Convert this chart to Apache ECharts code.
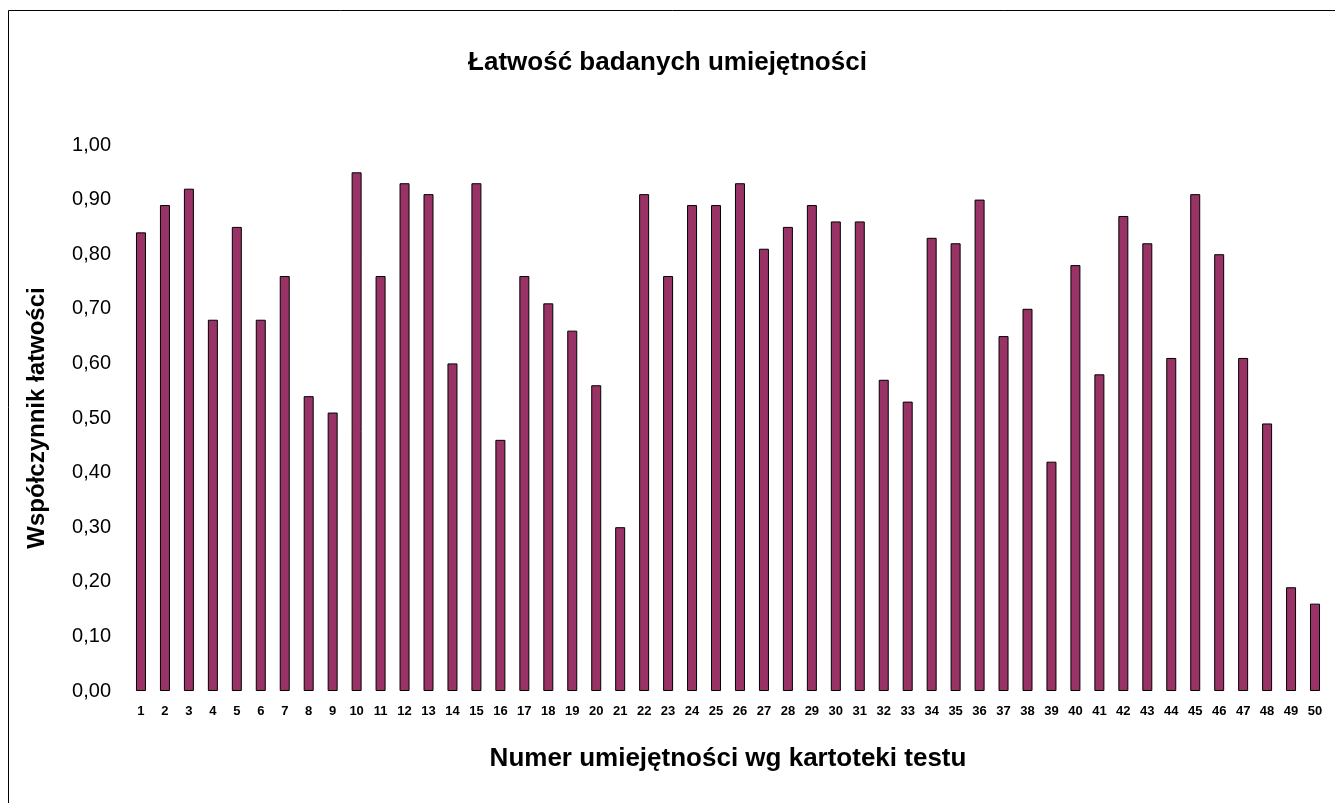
<!DOCTYPE html>
<html>
<head>
<meta charset="utf-8">
<script src="https://cdn.jsdelivr.net/npm/echarts@6/dist/echarts.min.js"></script>
<style>
html,body{margin:0;padding:0;background:#fff;}
#chart{width:1335px;height:803px;}
</style>
</head>
<body>
<div id="chart"></div>
<script>
const categories = ['1','2','3','4','5','6','7','8','9','10','11','12','13','14','15','16','17','18','19','20','21','22','23','24','25','26','27','28','29','30','31','32','33','34','35','36','37','38','39','40','41','42','43','44','45','46','47','48','49','50'];
const values = [0.84,0.89,0.92,0.68,0.85,0.68,0.76,0.54,0.51,0.95,0.76,0.93,0.91,0.60,0.93,0.46,0.76,0.71,0.66,0.56,0.30,0.91,0.76,0.89,0.89,0.93,0.81,0.85,0.89,0.86,0.86,0.57,0.53,0.83,0.82,0.90,0.65,0.70,0.42,0.78,0.58,0.87,0.82,0.61,0.91,0.80,0.61,0.49,0.19,0.16];
const titleText = 'Łatwość badanych umiejętności';
const xAxisName = 'Numer umiejętności wg kartoteki testu';
const yAxisName = 'Współczynnik łatwości';

const sans = "'Liberation Sans', Arial, sans-serif";
const chart = echarts.init(document.getElementById('chart'), null, {renderer:'canvas'});
chart.setOption({
  animation: false,
  backgroundColor: '#ffffff',
  title: {
    text: titleText,
    left: 'center',
    top: 45,
    textStyle: {fontFamily: sans, fontWeight: 'bold', fontSize: 26, color: '#000'}
  },
  graphic: [{
    type: 'rect',
    shape: {x: 8.5, y: 10.5, width: 1400, height: 900},
    style: {fill: 'none', stroke: '#000', lineWidth: 1},
    silent: true,
    z: -1
  }],
  grid: {left: 129, right: 8, top: 145, bottom: 112, containLabel: false},
  xAxis: {
    type: 'category',
    data: categories,
    name: xAxisName,
    nameLocation: 'middle',
    nameGap: 55,
    nameTextStyle: {fontFamily: sans, fontWeight: 'bold', fontSize: 26, color: '#000'},
    axisLine: {show: false},
    axisTick: {show: false},
    axisLabel: {interval: 0, fontFamily: sans, fontWeight: 'bold', fontSize: 13, color: '#000', margin: 14}
  },
  yAxis: {
    type: 'value',
    min: 0, max: 1, interval: 0.1,
    name: yAxisName,
    nameLocation: 'middle',
    nameGap: 80,
    nameTextStyle: {fontFamily: sans, fontWeight: 'bold', fontSize: 24, color: '#000'},
    axisLine: {show: false},
    axisTick: {show: false},
    splitLine: {show: false},
    axisLabel: {
      fontFamily: sans,
      fontSize: 20, color: '#000', margin: 18,
      formatter: v => v.toFixed(2).replace('.', ',')
    }
  },
  series: [{
    type: 'bar',
    data: values,
    barWidth: 10,
    itemStyle: {color: '#993366', borderColor: '#000', borderWidth: 1}
  }]
});
</script>
</body>
</html>
